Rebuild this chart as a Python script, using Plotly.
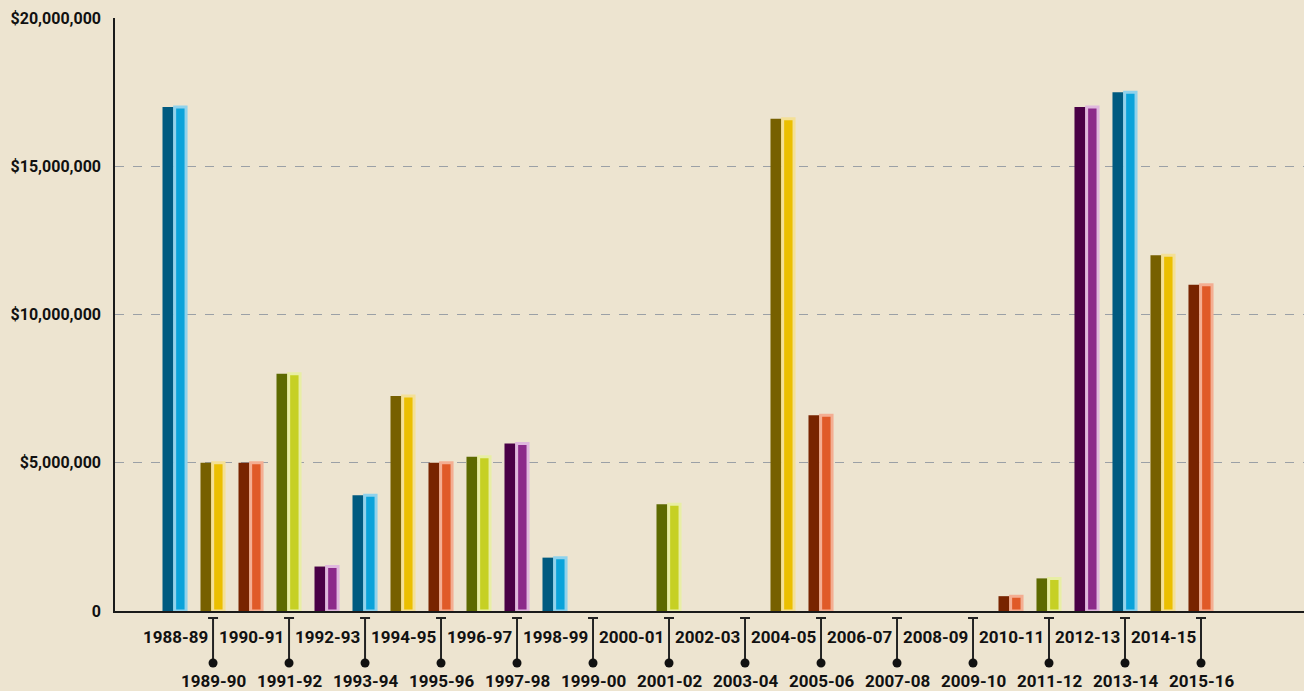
import plotly.graph_objects as go

seasons = ["1988-89", "1989-90", "1990-91", "1991-92", "1992-93", "1993-94", "1994-95",
           "1995-96", "1996-97", "1997-98", "1998-99", "1999-00", "2000-01", "2001-02",
           "2002-03", "2003-04", "2004-05", "2005-06", "2006-07", "2007-08", "2008-09",
           "2009-10", "2010-11", "2011-12", "2012-13", "2013-14", "2014-15", "2015-16"]
amounts = [17000000, 5000000, 5000000, 8000000, 1500000, 3900000, 7250000,
           5000000, 5200000, 5650000, 1800000, 0, 0, 3600000,
           0, 0, 16600000, 6600000, 0, 0, 0,
           0, 500000, 1100000, 17000000, 17500000, 12000000, 11000000]
y_tick_values = [0, 5000000, 10000000, 15000000, 20000000]
y_tick_labels = ["0", "$5,000,000", "$10,000,000", "$15,000,000", "$20,000,000"]

# palette cycle: (dark side, light border, face)
palette = [
    ("#005a80", "#8fd2ec", "#0aa3da"),   # blue
    ("#776000", "#f4e096", "#ebbf00"),   # gold
    ("#782400", "#f4ae92", "#e05a28"),   # red
    ("#5d6a00", "#e8eea4", "#c6d024"),   # green
    ("#4a0046", "#e0b8de", "#8c2a8a"),   # purple
]

FONT = "Roboto, Liberation Sans Narrow, sans-serif"
BG = "#ede4d0"

xs = list(range(len(seasons)))
vals = [v if v else None for v in amounts]
dark = [palette[i % 5][0] for i in xs]
border = [palette[i % 5][1] for i in xs]
face = [palette[i % 5][2] for i in xs]

fig = go.Figure()
fig.add_trace(go.Bar(x=xs, y=vals, offset=-0.33, width=0.29,
                     marker=dict(color=dark, line=dict(width=0)),
                     hoverinfo="skip", showlegend=False))
fig.add_trace(go.Bar(x=xs, y=vals, offset=-0.01, width=0.30,
                     marker=dict(color=face, line=dict(width=3, color=border)),
                     customdata=seasons, hovertemplate="%{customdata}: $%{y:,.0f}<extra></extra>",
                     showlegend=False))

shapes = []
annotations = []
H = 593.0
def py(p):
    return (611 - p) / H

for i, s in enumerate(seasons):
    if i % 2 == 0:
        annotations.append(dict(x=i, y=py(637), xref="x", yref="paper", text=s,
                                showarrow=False, xanchor="center", yanchor="middle",
                                font=dict(family=FONT, size=17, color="#111111", weight="bold")))
    else:
        annotations.append(dict(x=i, y=py(681), xref="x", yref="paper", text=s,
                                showarrow=False, xanchor="center", yanchor="middle",
                                font=dict(family=FONT, size=17, color="#111111", weight="bold")))
        shapes.append(dict(type="line", xref="x", yref="paper", x0=i, x1=i,
                           y0=py(618), y1=py(663), line=dict(color="#222222", width=2)))
        shapes.append(dict(type="line", xref="x", yref="paper", xsizemode="pixel", xanchor=i,
                           x0=-5, x1=5, y0=py(618), y1=py(618), line=dict(color="#222222", width=2)))
        shapes.append(dict(type="circle", xref="x", yref="paper", xsizemode="pixel",
                           ysizemode="pixel", xanchor=i, yanchor=py(663),
                           x0=-4.5, x1=4.5, y0=-4.5, y1=4.5,
                           fillcolor="#111111", line=dict(width=0)))

fig.update_layout(
    width=1304, height=691,
    margin=dict(l=115, r=0, t=18, b=80, autoexpand=False),
    paper_bgcolor=BG, plot_bgcolor=BG,
    barmode="overlay",
    shapes=shapes, annotations=annotations,
    xaxis=dict(range=[-1.58, 29.71], showticklabels=False, showgrid=False, zeroline=False,
               showline=True, linecolor="#1a1a1a", linewidth=2, ticks="", automargin=False),
    yaxis=dict(range=[0, 20000000], tickvals=y_tick_values, ticktext=y_tick_labels,
               showgrid=True, gridcolor="#9ba0a6", griddash="dash", gridwidth=1,
               zeroline=False, showline=True, linecolor="#1a1a1a", linewidth=1.5,
               ticks="outside", ticklen=9, tickcolor="rgba(0,0,0,0)", automargin=False,
               tickfont=dict(family=FONT, size=16, color="#111111", weight="bold")),
    hovermode="closest",
)

fig.write_html("out.html", config={"displayModeBar": False})
